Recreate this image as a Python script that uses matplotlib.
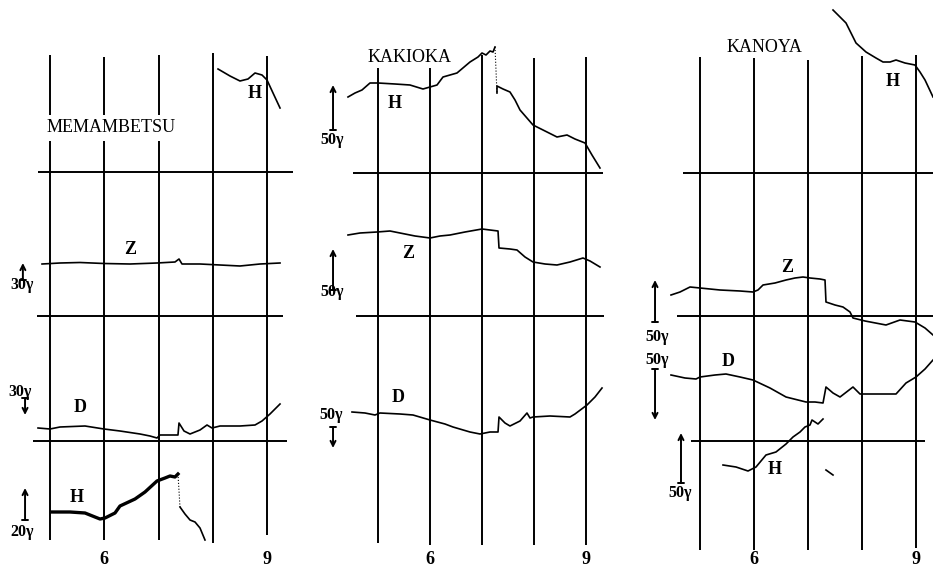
import matplotlib.pyplot as plt

plt.rcParams['font.family'] = ['Liberation Serif', 'DejaVu Serif']

# hour lines (UT) and the record height scale is in arbitrary trace units
hours = [5, 6, 7, 8, 9]
hour_labels = ['6', '9']

# ---------------- MEMAMBETSU ----------------
mem_vtop = [51.6, 51.4, 51.6, 51.8, 51.5]
mem_vbot = [3.1, 3.1, 3.1, 2.8, 3.6]
mem_base = [39.9, 25.5, 13.0]
mem_base_x0 = [4.78, 4.76, 4.69]
mem_base_x1 = [9.48, 9.29, 9.37]

mem_H_t = [8.097, 8.318, 8.502, 8.650, 8.779, 8.908, 9.0, 9.111, 9.240]
mem_H_v = [50.2, 49.5, 49.0, 49.2, 49.8, 49.6, 49.1, 47.8, 46.3]

mem_Z_t = [4.853, 5.184, 5.553, 5.995, 6.475, 6.972, 7.304, 7.378, 7.433,
           7.765, 8.134, 8.502, 8.871, 9.240]
mem_Z_v = [30.7, 30.8, 30.85, 30.75, 30.7, 30.8, 30.9, 31.2, 30.7,
           30.7, 30.6, 30.5, 30.7, 30.8]

mem_D_t = [4.779, 5.0, 5.184, 5.645, 5.995, 6.290, 6.659, 6.843, 6.972, 7.028,
           7.359, 7.378, 7.470, 7.581, 7.765, 7.894, 7.986, 8.134, 8.502,
           8.779, 8.908, 9.055, 9.240]
mem_D_v = [14.3, 14.2, 14.4, 14.5, 14.2, 14.0, 13.7, 13.5, 13.3, 13.6,
           13.6, 14.8, 14.0, 13.7, 14.1, 14.6, 14.3, 14.5, 14.5,
           14.6, 15.0, 15.7, 16.7]

mem_H2a_t = [5.037, 5.369, 5.645, 5.829, 5.922, 6.014, 6.198, 6.290, 6.567,
             6.751, 6.972, 7.120, 7.212, 7.304, 7.359]
mem_H2a_v = [5.9, 5.9, 5.8, 5.4, 5.2, 5.3, 5.8, 6.5, 7.2,
             7.9, 9.0, 9.3, 9.5, 9.4, 9.7]
mem_H2b_t = [7.396, 7.488, 7.581, 7.673, 7.765, 7.857]
mem_H2b_v = [6.4, 5.7, 5.1, 4.9, 4.3, 3.1]

# ---------------- KAKIOKA ----------------
kak_vtop = [50.3, 50.3, 51.6, 51.3, 51.4]
kak_vbot = [2.8, 2.6, 2.6, 2.6, 2.6]
kak_base = [39.8, 25.5]
kak_base_x0 = [4.519, 4.577]
kak_base_x1 = [9.327, 9.346]

kak_Ha_t = [4.423, 4.558, 4.692, 4.846, 5.0, 5.327, 5.615, 5.865, 6.0, 6.135,
            6.25, 6.519, 6.769, 6.923, 7.0, 7.077, 7.154, 7.212, 7.25]
kak_Ha_v = [47.4, 47.8, 48.1, 48.8, 48.8, 48.7, 48.6, 48.2, 48.4, 48.6,
            49.4, 49.8, 50.9, 51.4, 51.8, 51.6, 52.0, 51.9, 52.4]
kak_Hb_t = [7.288, 7.288, 7.404, 7.538, 7.635, 7.731, 7.981, 8.212, 8.442,
            8.635, 8.788, 8.981, 9.115, 9.269]
kak_Hb_v = [47.8, 48.5, 48.2, 47.9, 47.1, 46.1, 44.6, 44.0, 43.4,
            43.6, 43.2, 42.8, 41.6, 40.3]

kak_Z_t = [4.423, 4.654, 4.981, 5.231, 5.423, 5.712, 6.0, 6.192, 6.385, 6.673,
           7.0, 7.154, 7.308, 7.327, 7.538, 7.673, 7.827, 7.981, 8.212, 8.442,
           8.692, 8.942, 9.077, 9.269]
kak_Z_v = [33.6, 33.8, 33.9, 34.0, 33.8, 33.5, 33.3, 33.5, 33.6, 33.9,
           34.2, 34.1, 34.0, 32.3, 32.2, 32.1, 31.4, 30.9, 30.7, 30.6,
           30.9, 31.3, 31.0, 30.4]

kak_D_t = [4.5, 4.75, 4.942, 5.038, 5.423, 5.673, 6.0, 6.288, 6.442, 6.769,
           6.962, 7.154, 7.308, 7.327, 7.442, 7.538, 7.731, 7.865, 7.923,
           7.981, 8.308, 8.692, 8.788, 9.019, 9.173, 9.308]
kak_D_v = [15.9, 15.8, 15.6, 15.8, 15.7, 15.6, 15.1, 14.7, 14.4, 13.9,
           13.7, 13.9, 13.9, 15.4, 14.8, 14.5, 15.0, 15.8, 15.3,
           15.4, 15.5, 15.4, 15.7, 16.6, 17.4, 18.3]

# ---------------- KANOYA ----------------
kan_vtop = [51.4, 51.3, 51.1, 51.5, 51.6]
kan_vbot = [2.1, 2.1, 2.1, 2.1, 2.3]
kan_base = [39.8, 25.5, 13.0]
kan_base_x0 = [4.685, 4.574, 4.833]
kan_base_x1 = [9.315, 9.315, 9.167]

kan_H_t = [7.463, 7.556, 7.704, 7.815, 7.889, 8.074, 8.259, 8.389, 8.519,
           8.630, 8.796, 8.981, 9.074, 9.167, 9.315]
kan_H_v = [56.1, 55.6, 54.8, 53.6, 52.8, 51.9, 51.3, 50.9, 50.9,
           51.1, 50.8, 50.6, 49.9, 49.1, 47.4]

kan_Z_t = [4.463, 4.630, 4.815, 5.0, 5.370, 5.741, 5.981, 6.074, 6.167, 6.389,
           6.593, 6.759, 6.907, 7.037, 7.222, 7.315, 7.333, 7.5, 7.648, 7.778,
           7.833, 8.056, 8.444, 8.704, 8.981, 9.167, 9.315]
kan_Z_v = [27.6, 27.9, 28.4, 28.3, 28.1, 28.0, 27.9, 28.1, 28.6, 28.8,
           29.1, 29.3, 29.4, 29.3, 29.2, 29.1, 26.9, 26.6, 26.4, 25.9,
           25.3, 25.0, 24.6, 25.1, 24.9, 24.3, 23.6]

kan_D_t = [4.463, 4.722, 4.926, 5.0, 5.278, 5.481, 5.741, 5.981, 6.296, 6.593,
           6.815, 6.963, 7.130, 7.278, 7.333, 7.463, 7.593, 7.833, 7.963,
           8.333, 8.630, 8.815, 9.0, 9.167, 9.315]
kan_D_v = [19.6, 19.3, 19.2, 19.4, 19.6, 19.7, 19.4, 19.1, 18.3, 17.4,
           17.1, 16.9, 16.9, 16.8, 18.4, 17.8, 17.4, 18.4, 17.7,
           17.7, 17.7, 18.8, 19.4, 20.2, 21.1]

kan_H2_t = [5.426, 5.667, 5.889, 6.037, 6.222, 6.407, 6.593, 6.722, 6.852,
            6.944, 7.037, 7.074, 7.185, 7.278]
kan_H2_v = [10.6, 10.4, 10.0, 10.4, 11.6, 11.9, 12.7, 13.4, 13.9,
            14.4, 14.6, 15.1, 14.7, 15.2]
kan_blot_t = [7.333, 7.463]
kan_blot_v = [10.1, 9.6]

# scale bars: (x, start level, end level) -- arrow points to end
mem_bars = [(4.50, 29.1, 30.8), (4.54, 17.3, 15.6), (4.54, 5.1, 8.3)]
mem_bar_text = [(4.48, 28.6, '30γ'), (4.45, 17.9, '30γ'), (4.49, 3.9, '20γ')]
kak_bars = [(4.135, 44.1, 48.6), (4.135, 28.1, 32.2), (4.135, 14.4, 12.3)]
kak_bar_text = [(4.12, 43.1, '50γ'), (4.12, 27.9, '50γ'), (4.10, 15.6, '50γ')]
kan_bars = [(4.167, 24.9, 29.1), (4.167, 20.2, 15.1), (4.648, 8.8, 13.8)]
kan_bar_text = [(4.20, 23.4, '50γ'), (4.20, 21.1, '50γ'), (4.63, 7.8, '50γ')]

fig = plt.figure(figsize=(9.33, 5.71), dpi=100)

panels = [
    # rect, xlim
    ([0, 0, 300 / 933, 1], (4.0783, 9.6083)),
    ([300 / 933, 0, 320 / 933, 1], (3.5, 9.6538)),
    ([620 / 933, 0, 313 / 933, 1], (3.5185, 9.3148)),
]
axes = []
for rect, xl in panels:
    ax = fig.add_axes(rect)
    ax.set_xlim(*xl)
    ax.set_ylim(0, 57.1)
    ax.axis('off')
    axes.append(ax)

GRID = dict(color='black', lw=1.4)
TR = dict(color='black', lw=1.2, clip_on=False, solid_joinstyle='round')
LAB = dict(fontsize=13, fontweight='bold', ha='center', va='center')
NAME = dict(fontsize=13, ha='center', va='center')


def grid(ax, vtop, vbot, base, x0, x1):
    ax.vlines(hours, vbot, vtop, **GRID)
    ax.hlines(base, x0, x1, **GRID)
    for h, s in zip([6, 9], hour_labels):
        ax.text(h, 1.2, s, **LAB)


def bars(ax, bar_list, texts):
    for x, a, b in bar_list:
        ax.annotate('', xy=(x, b), xytext=(x, a),
                    arrowprops=dict(arrowstyle=']->,widthA=0.25,lengthA=0',
                                    mutation_scale=9, lw=1.4, color='black',
                                    shrinkA=0, shrinkB=0))
    for x, y, s in texts:
        ax.text(x, y, s, fontsize=11.5, fontweight='bold', ha='center', va='center')


# MEMAMBETSU
ax = axes[0]
grid(ax, mem_vtop, mem_vbot, mem_base, mem_base_x0, mem_base_x1)
ax.plot(mem_H_t, mem_H_v, **TR)
ax.plot(mem_Z_t, mem_Z_v, **TR)
ax.plot(mem_D_t, mem_D_v, **TR)
ax.plot(mem_H2a_t, mem_H2a_v, color='black', lw=2.4, clip_on=False)
ax.plot([mem_H2a_t[-1], mem_H2b_t[0]], [mem_H2a_v[-1], mem_H2b_v[0]],
        color='black', lw=0.8, ls=':')
ax.plot(mem_H2b_t, mem_H2b_v, **TR)
ax.text(6.12, 44.3, 'MEMAMBETSU', zorder=5,
        bbox=dict(facecolor='white', edgecolor='none', pad=3), **NAME)
ax.text(8.78, 47.8, 'H', **LAB)
ax.text(6.475, 32.1, 'Z', **LAB)
ax.text(5.553, 16.3, 'D', **LAB)
ax.text(5.498, 7.4, 'H', **LAB)
bars(ax, mem_bars, mem_bar_text)

# KAKIOKA
ax = axes[1]
grid(ax, kak_vtop, kak_vbot, kak_base, kak_base_x0, kak_base_x1)
ax.plot(kak_Ha_t, kak_Ha_v, **TR)
ax.plot([kak_Ha_t[-1], kak_Hb_t[0]], [kak_Ha_v[-1], kak_Hb_v[0]],
        color='black', lw=0.8, ls=':')
ax.plot(kak_Hb_t, kak_Hb_v, **TR)
ax.plot(kak_Z_t, kak_Z_v, **TR)
ax.plot(kak_D_t, kak_D_v, **TR)
ax.text(5.60, 51.4, 'KAKIOKA', **NAME)
ax.text(5.33, 46.8, 'H', **LAB)
ax.text(5.577, 31.8, 'Z', **LAB)
ax.text(5.385, 17.3, 'D', **LAB)
bars(ax, kak_bars, kak_bar_text)

# KANOYA
ax = axes[2]
grid(ax, kan_vtop, kan_vbot, kan_base, kan_base_x0, kan_base_x1)
ax.plot(kan_H_t, kan_H_v, **TR)
ax.plot(kan_Z_t, kan_Z_v, **TR)
ax.plot(kan_D_t, kan_D_v, **TR)
ax.plot(kan_H2_t, kan_H2_v, **TR)
ax.plot(kan_blot_t, kan_blot_v, color='black', lw=1.2)
ax.text(6.20, 52.4, 'KANOYA', **NAME)
ax.text(8.574, 48.9, 'H', **LAB)
ax.text(6.611, 30.3, 'Z', **LAB)
ax.text(5.519, 20.9, 'D', **LAB)
ax.text(6.389, 10.1, 'H', **LAB)
bars(ax, kan_bars, kan_bar_text)

fig.savefig('out.png', dpi=100, facecolor='white')
